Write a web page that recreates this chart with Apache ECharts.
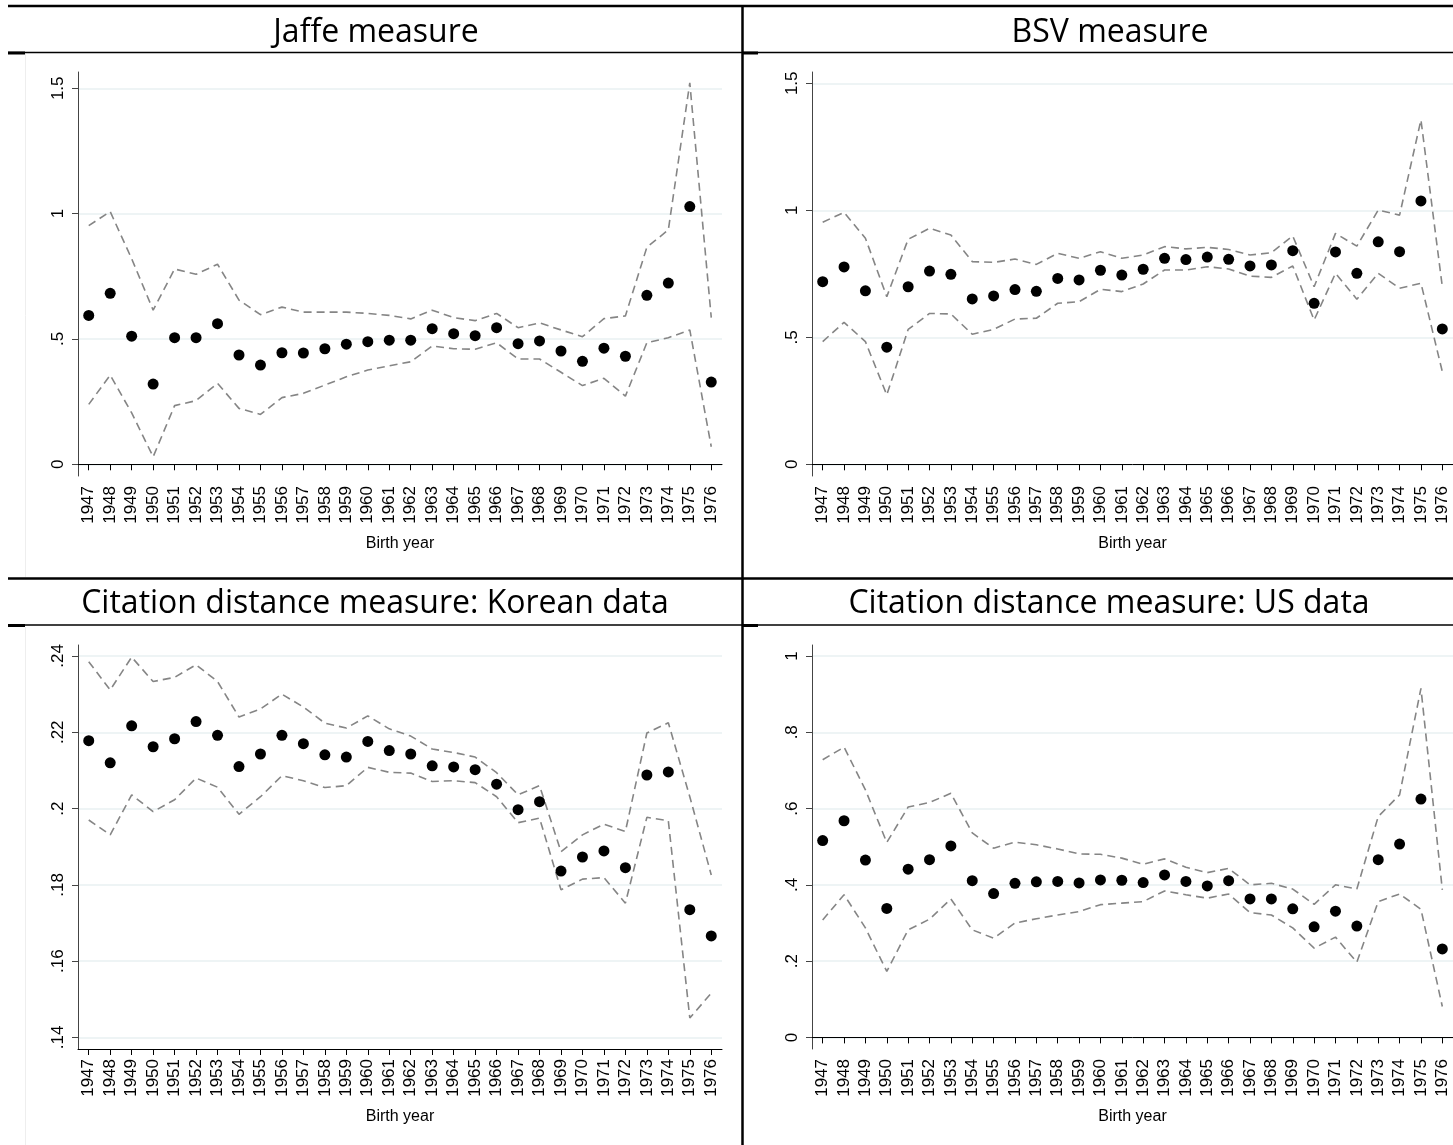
<!DOCTYPE html>
<html><head><meta charset="utf-8">
<script src="https://cdn.jsdelivr.net/npm/echarts@6/dist/echarts.min.js"></script>
<style>html,body{margin:0;padding:0;background:#fff}#c{width:1453px;height:1145px}</style>
</head><body><div id="c"></div>
<script>
const years = ['1947','1948','1949','1950','1951','1952','1953','1954','1955','1956','1957','1958','1959','1960','1961','1962','1963','1964','1965','1966','1967','1968','1969','1970','1971','1972','1973','1974','1975','1976'];

const jaffeEst = [0.594,0.682,0.511,0.320,0.505,0.505,0.561,0.436,0.396,0.445,0.444,0.461,0.479,0.489,0.495,0.495,0.541,0.521,0.513,0.545,0.481,0.492,0.452,0.411,0.463,0.431,0.674,0.723,1.028,0.328];
const jaffeHi  = [0.952,1.008,0.820,0.615,0.779,0.758,0.798,0.655,0.597,0.627,0.607,0.607,0.607,0.602,0.594,0.580,0.615,0.585,0.573,0.602,0.545,0.564,0.536,0.509,0.581,0.592,0.866,0.935,1.522,0.585];
const jaffeLo  = [0.239,0.356,0.205,0.030,0.234,0.254,0.323,0.223,0.199,0.266,0.283,0.316,0.349,0.376,0.393,0.409,0.472,0.461,0.459,0.485,0.420,0.420,0.367,0.314,0.343,0.272,0.485,0.505,0.536,0.070];

const bsvEst = [0.719,0.777,0.683,0.461,0.699,0.761,0.748,0.651,0.663,0.688,0.681,0.732,0.726,0.764,0.745,0.768,0.811,0.806,0.816,0.807,0.781,0.785,0.841,0.634,0.836,0.752,0.876,0.837,1.037,0.533];
const bsvHi  = [0.953,0.992,0.890,0.660,0.886,0.929,0.903,0.798,0.795,0.808,0.787,0.831,0.811,0.837,0.811,0.824,0.857,0.848,0.854,0.846,0.824,0.833,0.899,0.699,0.909,0.859,1.001,0.981,1.356,0.699];
const bsvLo  = [0.483,0.559,0.483,0.273,0.531,0.594,0.592,0.512,0.531,0.572,0.575,0.634,0.640,0.689,0.680,0.710,0.765,0.765,0.778,0.769,0.741,0.736,0.781,0.568,0.752,0.650,0.752,0.693,0.713,0.365];

const korEst = [0.2178,0.2120,0.2217,0.2162,0.2183,0.2228,0.2192,0.2110,0.2143,0.2192,0.2170,0.2141,0.2135,0.2176,0.2152,0.2143,0.2112,0.2109,0.2102,0.2064,0.1997,0.2018,0.1836,0.1873,0.1889,0.1845,0.2088,0.2096,0.1735,0.1666];
const korHi  = [0.2385,0.2311,0.2397,0.2333,0.2344,0.2377,0.2333,0.2240,0.2261,0.2300,0.2266,0.2224,0.2211,0.2243,0.2209,0.2190,0.2156,0.2147,0.2135,0.2094,0.2036,0.2060,0.1887,0.1931,0.1959,0.1940,0.2198,0.2225,0.2031,0.1826];
const korLo  = [0.1970,0.1931,0.2036,0.1992,0.2023,0.2080,0.2056,0.1985,0.2031,0.2086,0.2073,0.2055,0.2060,0.2108,0.2095,0.2093,0.2071,0.2073,0.2068,0.2031,0.1963,0.1975,0.1787,0.1815,0.1819,0.1752,0.1977,0.1968,0.1451,0.1516];

const usEst = [0.516,0.568,0.465,0.338,0.441,0.466,0.502,0.411,0.377,0.404,0.408,0.409,0.405,0.413,0.412,0.406,0.426,0.409,0.397,0.411,0.363,0.363,0.337,0.290,0.331,0.292,0.466,0.507,0.625,0.232];
const usHi  = [0.728,0.761,0.649,0.511,0.604,0.616,0.640,0.536,0.496,0.512,0.505,0.494,0.481,0.480,0.470,0.454,0.468,0.446,0.432,0.443,0.400,0.404,0.389,0.349,0.400,0.389,0.579,0.636,0.915,0.387];
const usLo  = [0.308,0.374,0.287,0.173,0.282,0.310,0.363,0.282,0.260,0.300,0.311,0.321,0.330,0.348,0.352,0.356,0.384,0.374,0.365,0.376,0.327,0.321,0.287,0.234,0.263,0.197,0.356,0.376,0.336,0.081];

const jaffeTicks = [0, 0.5, 1, 1.5];
const bsvTicks = [0, 0.5, 1, 1.5];
const korTicks = [0.14, 0.16, 0.18, 0.20, 0.22, 0.24];
const usTicks = [0, 0.2, 0.4, 0.6, 0.8, 1];

const titles = ['Jaffe measure', 'BSV measure', 'Citation distance measure: Korean data', 'Citation distance measure: US data'];
const xName = 'Birth year';

// layout (not data)
const panels = [
  {left: 78,  top: 72,  height: 404, min: -0.0467, max: 1.565,  ticks: jaffeTicks, est: jaffeEst, hi: jaffeHi, lo: jaffeLo, tx: 376,  ty: 33},
  {left: 812, top: 72,  height: 404, min: -0.046,  max: 1.5445, ticks: bsvTicks,   est: bsvEst,   hi: bsvHi,   lo: bsvLo,   tx: 1110, ty: 33},
  {left: 78,  top: 645, height: 404, min: 0.13696, max: 0.24288, ticks: korTicks,  est: korEst,   hi: korHi,   lo: korLo,   tx: 375,  ty: 604},
  {left: 812, top: 645, height: 404, min: -0.0304, max: 1.0288, ticks: usTicks,    est: usEst,    hi: usHi,    lo: usLo,    tx: 1109, ty: 604}
];

function fmt(v) {
  let s = String(+(+v).toFixed(3));
  if (s.startsWith('0.')) s = s.slice(1);
  return s;
}

const FONT = 'Liberation Sans, Arial, sans-serif';
const grid = [], xAxis = [], yAxis = [], series = [], graphic = [];

panels.forEach((p, i) => {
  grid.push({left: p.left, top: p.top, width: 644, height: p.height, containLabel: false});
  xAxis.push({
    type: 'category', gridIndex: i, data: years, boundaryGap: true,
    name: xName, nameLocation: 'middle', nameGap: 60,
    nameTextStyle: {fontFamily: FONT, fontSize: 16, color: '#000'},
    axisLine: {show: true, lineStyle: {color: '#000', width: 1}},
    axisTick: {show: true, alignWithLabel: true, length: 6, interval: 0, lineStyle: {color: '#000'}},
    axisLabel: {interval: 0, rotate: 90, margin: 10, fontFamily: FONT, fontSize: 17, color: '#000', hideOverlap: false},
    splitLine: {show: false}
  });
  yAxis.push({
    type: 'value', gridIndex: i, min: p.min, max: p.max,
    axisLine: {show: true, lineStyle: {color: '#444', width: 1}},
    axisTick: {show: true, length: 6, customValues: p.ticks, lineStyle: {color: '#444'}},
    axisLabel: {customValues: p.ticks, rotate: 90, margin: 11, fontFamily: FONT, fontSize: 17, color: '#000', formatter: fmt, showMinLabel: true, showMaxLabel: true},
    splitLine: {show: true, lineStyle: {color: '#e9f1f2', width: 1.5}}
  });
  const dash = {color: '#858585', width: 1.6, type: [8, 5]};
  series.push({type: 'line', xAxisIndex: i, yAxisIndex: i, data: p.hi, symbol: 'none', lineStyle: dash, silent: true, animation: false, z: 2});
  series.push({type: 'line', xAxisIndex: i, yAxisIndex: i, data: p.lo, symbol: 'none', lineStyle: dash, silent: true, animation: false, z: 2});
  series.push({type: 'scatter', xAxisIndex: i, yAxisIndex: i, data: p.est, symbol: 'circle', symbolSize: 11, itemStyle: {color: '#000', opacity: 1}, animation: false, z: 3});
  graphic.push({type: 'text', x: p.tx, y: p.ty, style: {text: titles[i], fontFamily: 'Open Sans, Lato, sans-serif', fontSize: 32, fill: '#000', align: 'center', verticalAlign: 'middle'}});
});

function hline(x1, x2, y, w) { graphic.push({type: 'line', shape: {x1, y1: y, x2, y2: y}, style: {stroke: '#000', lineWidth: w}}); }
function vline(x, y1, y2, w, c) { graphic.push({type: 'line', shape: {x1: x, y1, x2: x, y2}, style: {stroke: c || '#000', lineWidth: w}}); }

hline(8, 1453, 6, 2.5);
hline(8, 1453, 52.5, 1.5);
hline(8, 25, 53, 3);
hline(742, 758, 53, 3);
hline(8, 1453, 578.5, 2.5);
hline(8, 1453, 625, 1.5);
hline(8, 25, 625.5, 3);
hline(742, 758, 625.5, 3);
vline(742.5, 5, 1145, 2.5);
vline(25.5, 54, 577, 1, '#eeeeee');
vline(25.5, 627, 1145, 1, '#eeeeee');

const chart = echarts.init(document.getElementById('c'), null, {renderer: 'canvas'});
chart.setOption({animation: false, backgroundColor: '#fff', grid, xAxis, yAxis, series, graphic});
</script></body></html>
